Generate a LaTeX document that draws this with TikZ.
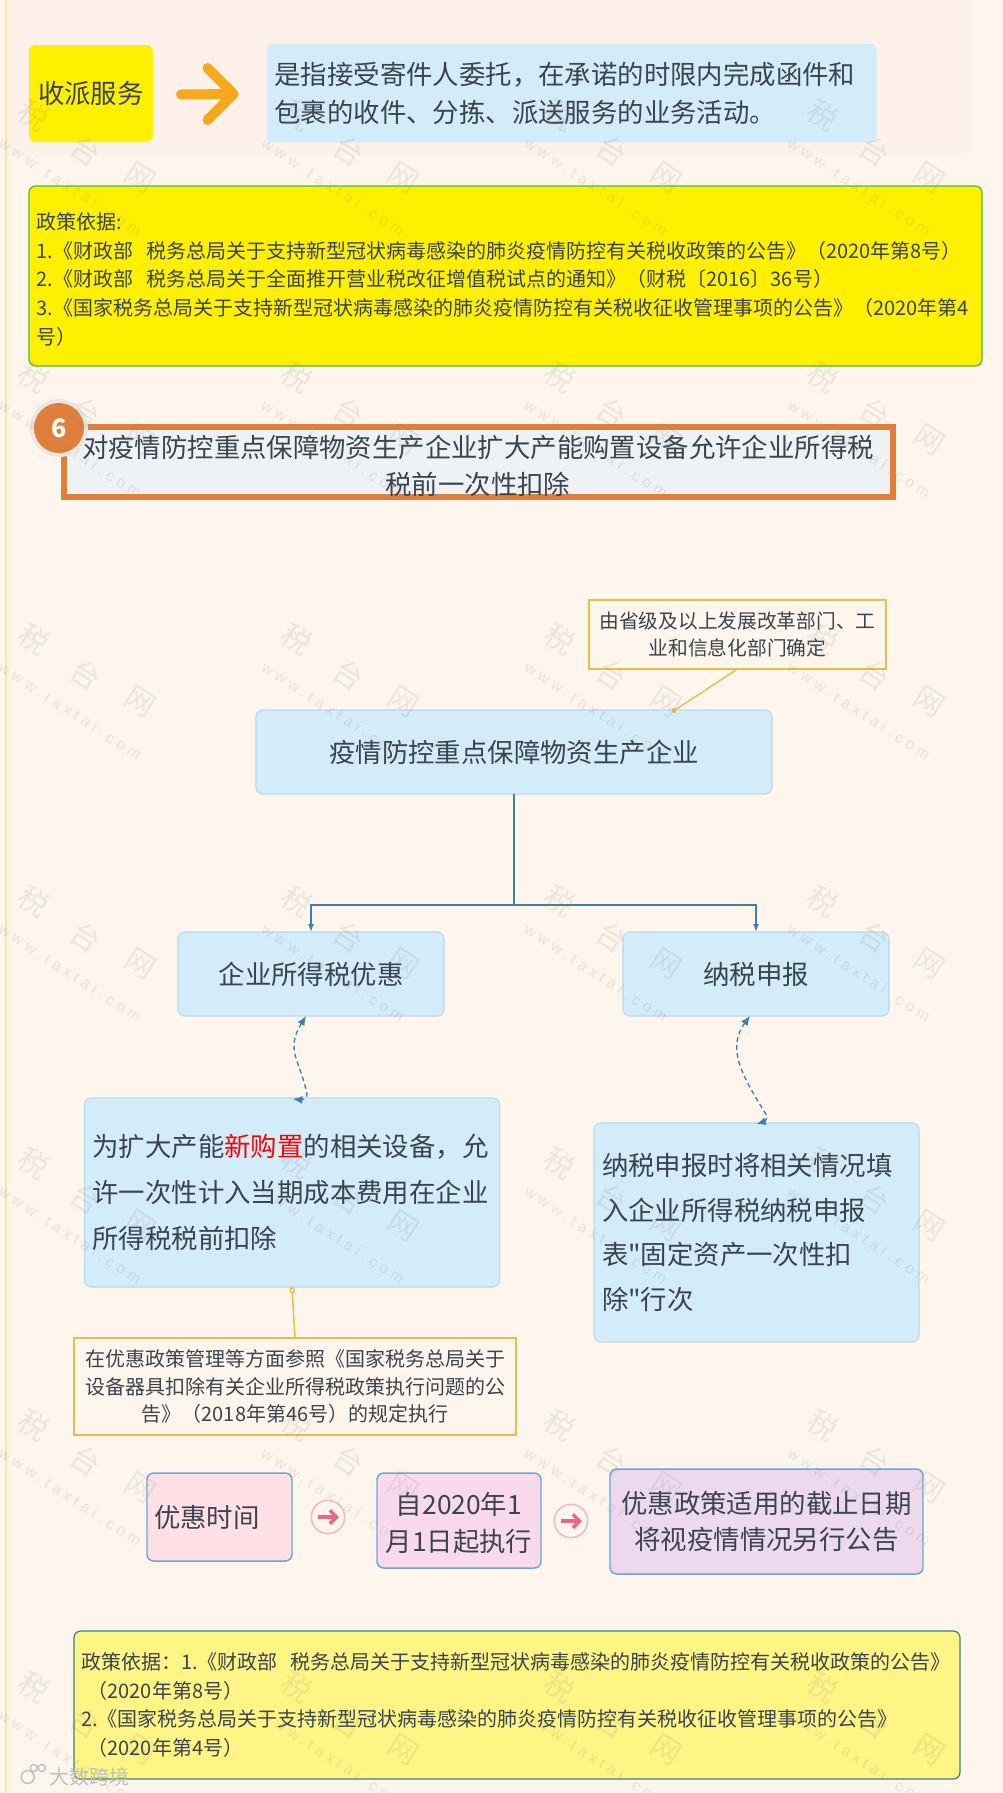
\documentclass[tikz,border=0pt]{standalone}
\usepackage{fontspec}
\setmainfont{Noto Sans CJK SC}
\newfontfamily\plainq{Noto Sans CJK SC}
\newfontfamily\wmfont[LetterSpace=30]{Liberation Sans}
\usetikzlibrary{arrows.meta,calc}
\definecolor{pagebg}{HTML}{FEF6EC}
\definecolor{topbg}{HTML}{FDF1E9}
\definecolor{ink}{HTML}{3A444E}
\definecolor{skyfill}{HTML}{D3ECF9}
\definecolor{skyline}{HTML}{BBD8EC}
\definecolor{wirecol}{HTML}{3F7FAE}
\definecolor{gold}{HTML}{E5BE4C}
\definecolor{orangeb}{HTML}{E07F3C}
\definecolor{arrowor}{HTML}{F6A91C}
\definecolor{rowline}{HTML}{6CA5D6}
\definecolor{pinkc}{HTML}{F1BBC6}
\definecolor{pinka}{HTML}{E8688C}
\definecolor{yelstrong}{HTML}{FFF000}
\definecolor{yelsoft}{HTML}{FFF585}
\definecolor{fillA}{HTML}{FFE0E7}
\definecolor{fillB}{HTML}{F9DAED}
\definecolor{fillC}{HTML}{ECD9EE}
\definecolor{headfill}{HTML}{EEF2F5}
\definecolor{ringcol}{HTML}{E9E7E4}
\newcommand{\fsBig}[1]{\fontsize{19.8pt}{#1pt}\selectfont}
\newcommand{\fsSmall}[1]{\fontsize{14.8pt}{#1pt}\selectfont}
\tikzset{
  sz/.style 2 args={minimum width=0.75*#1 pt,minimum height=0.75*#2 pt},
  basebox/.style={rectangle,rounded corners=5pt,text=ink,inner sep=0pt,outer sep=0pt},
  sky/.style={basebox,fill=skyfill,draw=skyline,line width=.8pt},
  goldbox/.style={rectangle,draw=gold,line width=1.1pt,fill=pagebg,fill opacity=.6,text opacity=1,text=ink,inner sep=0pt,outer sep=0pt,align=center,font=\fsSmall{20.5}},
  policy/.style={basebox,line width=.9pt,align=left,font=\fsSmall{21.5}},
  rowbox/.style={basebox,draw=rowline,line width=1.1pt,font=\fsBig{28},align=center},
  wire/.style={wirecol,line width=1.1pt},
  wiretip/.style={wire,-{Latex[length=6pt,width=4.5pt]}},
  dashlink/.style={wirecol,line width=1pt,dash pattern=on 3.5pt off 2.5pt,{Latex[length=7pt,width=6pt]}-{Latex[length=7pt,width=6pt]}},
  goldlink/.style={gold,line width=1.1pt},
  roundarrow/.style={circle,draw=pinkc,fill=pagebg,line width=1.2pt,minimum size=25pt,inner sep=0pt},
  wmbig/.style={text=gray,text opacity=.14,inner sep=0pt,rotate=-33,font=\fontsize{22pt}{22pt}\selectfont},
  wmsmall/.style={text=gray,text opacity=.17,inner sep=0pt,rotate=-33,font=\wmfont\fontsize{11.5pt}{12pt}\selectfont},
}
\begin{document}
\begin{tikzpicture}[x=0.75pt,y=-0.75pt]
\useasboundingbox (0,0) rectangle (1003,1793);
\fill[pagebg] (0,0) rectangle (1003,1793);
\fill[topbg] (6,0) rectangle (970,155);
\fill[gold!35!pagebg] (5,0) rectangle (7,1793);

% top row
\node[basebox,fill=yelstrong,sz={124}{97},font=\fsBig{28}] (svc) at (91,93.5) {收派服务};
\node[basebox,fill=skyfill,sz={610}{99},font=\fsBig{28.5},align=left,text width=0.75*594 pt,inner xsep=6pt] (svcdef) at (571.5,93) {是指接受寄件人委托，在承诺的时限内完成函件和\\包裹的收件、分拣、派送服务的业务活动。};
\coordinate (arrA) at ($(svc.east)+(28,1)$);
\coordinate (arrB) at ($(svcdef.west)+(-33,1)$);
\draw[arrowor,line width=7.5pt,line cap=round,line join=round] (arrA) -- (arrB);
\draw[arrowor,line width=7.5pt,line cap=round,line join=round] ($(arrB)+(-26,-26)$) -- (arrB) -- ($(arrB)+(-26,26)$);

% first policy box
\node[policy,fill=yelstrong,draw=green!45!gray,sz={953}{180},text width=0.75*938 pt,inner xsep=5pt,font=\fontsize{15pt}{21.5pt}\selectfont] (pol1) at (505.5,276) {\rule{0pt}{17.5pt}政策依据:\\
1.《财政部 \ 税务总局关于支持新型冠状病毒感染的肺炎疫情防控有关税收政策的公告》（2020年第8号）\\
2.《财政部 \ 税务总局关于全面推开营业税改征增值税试点的通知》（财税〔2016〕36号）\\
3.《国家税务总局关于支持新型冠状病毒感染的肺炎疫情防控有关税收征收管理事项的公告》（2020年第4\\
号）};

% heading
\node[rectangle,draw=orangeb,fill=headfill,line width=4.5pt,sz={829}{67},text=ink,font=\fsBig{27.5},align=center,inner sep=0pt] (head) at (478,462) {\rule{0pt}{23pt}对疫情防控重点保障物资生产企业扩大产能购置设备允许企业所得税\\税前一次性扣除};
\node[circle,fill=ringcol,minimum size=43.5pt,inner sep=0pt] (numring) at (59,428) {};
\node[circle,fill=orangeb,text=white,minimum size=37.5pt,inner sep=0pt,font=\fontsize{19pt}{19pt}\selectfont\bfseries] (num) at (59,428) {6};

% flow
\node[goldbox,sz={297}{69}] (note1) at (737.5,634.5) {由省级及以上发展改革部门、工\\业和信息化部门确定};
\node[sky,sz={516}{84},font=\fsBig{28}] (main) at (514,752) {疫情防控重点保障物资生产企业};
\coordinate (mainhit) at ($(main.north)+(158,2)$);
\draw[goldlink,-{Circle[length=4pt,width=4pt]}] (note1.south) -- (mainhit);

\node[sky,sz={266}{84},font=\fsBig{28}] (cit) at (311,974) {企业所得税优惠};
\node[sky,sz={266}{84},font=\fsBig{28}] (decl) at (756,974) {纳税申报};
\coordinate (junc) at ($(main.south)+(0,111)$);
\draw[wire] (main.south) -- (junc);
\draw[wiretip] (junc) -| (cit.north);
\draw[wiretip] (junc) -| (decl.north);

\node[sky,sz={415}{189},font=\fsBig{34.3},align=left,text width=0.75*399 pt,inner xsep=6pt] (buy) at (292,1192.5) {为扩大产能{\color{red}新购置}的相关设备，允\\许一次性计入当期成本费用在企业\\所得税税前扣除};
\node[sky,sz={325}{219},font=\fsBig{33.5},align=left,text width=0.75*309 pt,inner xsep=6pt] (fill) at (756.5,1232.5) {纳税申报时将相关情况填\\入企业所得税纳税申报\\表{\plainq"}固定资产一次性扣\\除{\plainq"}行次};
\draw[dashlink] ($(cit.south)+(-5,0)$) .. controls (285,1050) and (300,1060) .. (307,1094) .. controls (307,1098) and (303,1100) .. ($(buy.north)+(1,1)$);
\draw[dashlink] ($(decl.south)+(-6,0)$) .. controls (725,1050) and (745,1080) .. (767,1116) .. controls (767,1121) and (763,1122) .. ($(fill.north)+(0,1)$);

\node[goldbox,sz={442}{97},font=\fontsize{15pt}{20.5pt}\selectfont] (note2) at (295,1386.5) {在优惠政策管理等方面参照《国家税务总局关于\\设备器具扣除有关企业所得税政策执行问题的公\\告》（2018年第46号）的规定执行};
\draw[goldlink,{Circle[open,length=5pt,width=4pt]}-] (buy.south) -- (note2.north);

% time row
\node[rowbox,fill=fillA,sz={145}{88},align=left,text width=0.75*131 pt,inner xsep=5.2pt] (t1) at (219.5,1517) {优惠时间};
\node[rowbox,fill=fillB,sz={164}{95},font=\fontsize{19.8pt}{27.75pt}\selectfont] (t2) at (459,1520.5) {\rule{0pt}{21pt}自2020年1\\月1日起执行};
\node[rowbox,fill=fillC,sz={313}{105},font=\fontsize{19.8pt}{27pt}\selectfont] (t3) at (766.5,1521.5) {优惠政策适用的截止日期\\将视疫情情况另行公告};
\node[roundarrow] (c1) at (328,1517) {};
\node[roundarrow] (c2) at (571,1521) {};
\foreach \c in {c1,c2}{
  \draw[pinka,line width=2.6pt,-{Straight Barb[length=5pt,width=10pt]}] ($(\c.center)+(-10,0)$) -- ($(\c.center)+(11,0)$);
}

% second policy box
\node[policy,fill=yelsoft,draw=teal!55!gray,sz={886}{148},text width=0.75*872 pt,inner xsep=5pt,font=\fontsize{15pt}{21.6pt}\selectfont] (pol2) at (517,1705) {政策依据：1.《财政部 \ 税务总局关于支持新型冠状病毒感染的肺炎疫情防控有关税收政策的公告》\\
\ （2020年第8号）\\
2.《国家税务总局关于支持新型冠状病毒感染的肺炎疫情防控有关税收征收管理事项的公告》\\
\ （2020年第4号）};

% watermarks
\foreach \c in {34,297,560,823}{
  \foreach \r in {115,377,639,901,1163,1425,1687}{
    \node[wmbig] (wmA-\c-\r) at (\c,\r) {税};
    \node[wmbig] (wmB-\c-\r) at (\c+52,\r+36) {台};
    \node[wmbig] (wmC-\c-\r) at (\c+106,\r+63) {网};
    \node[wmsmall] (wmD-\c-\r) at (\c+36,\r+72) {www.taxtai.com};
  }
}

% corner mark
\node[text=gray!50!white,inner sep=0pt,font=\fontsize{15pt}{15pt}\selectfont] (corner) at (90,1777) {大数跨境};
\coordinate (logo) at ($(corner.west)+(-22,0)$);
\draw[gray!50!white,line width=1.1pt] (logo) circle[radius=6.5];
\draw[gray!50!white,line width=1pt] ($(logo)+(6,-9)$) circle[radius=3.5] ($(logo)+(14,-9)$) circle[radius=3.5];
\end{tikzpicture}
\end{document}
